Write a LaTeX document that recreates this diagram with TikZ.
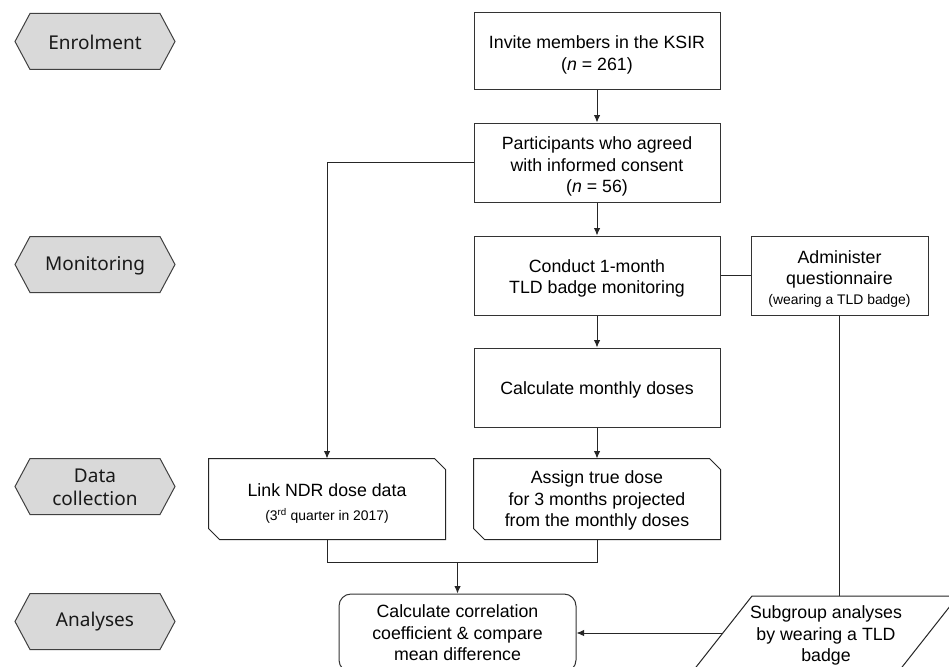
\documentclass[tikz,border=0pt]{standalone}
\usepackage{fontspec}
\setmainfont{Liberation Sans}
\newfontfamily\hexfont{Noto Sans}
\usetikzlibrary{arrows.meta}
\begin{document}
\begin{tikzpicture}[x=1pt,y=-1pt,
  line width=1pt,
  ln/.style={draw=black!85, line width=1pt},
  arr/.style={ln, -{Latex[length=7.5pt,width=6.5pt]}},
  txt/.style={align=center, inner sep=0pt, font=\fontsize{17.75}{21.5}\selectfont, text=black},
  box/.style={draw=black!80, line width=1pt, fill=white, inner sep=0pt},
  hexfill/.style={draw=black!75, line width=1pt, fill=black!15},
  hextext/.style={align=center, inner sep=0pt, font=\hexfont\fontsize{19}{23}\selectfont, text=black!90}
]
\clip (0,0) rectangle (949,666);
\fill[white] (0,0) rectangle (949,666);

% stage hexagons
\foreach \yy in {41.5,264.5,486.5,621.5}{
  \draw[hexfill] (15,\yy) -- ++(15,-28) -- ++(130,0) -- ++(15,28) -- ++(-15,28) -- ++(-130,0) -- cycle;
}
\node[hextext] (s1) at (95,42) {Enrolment};
\node[hextext] (s2) at (95,266) {Monitoring};
\node[hextext] (s3) at (95,487) {Data\\collection};
\node[hextext] (s4) at (95,622) {Analyses};

% main boxes
\node[box, minimum width=246, minimum height=77] (invite) at (597,51.5) {};
\node[txt] (inviteT) at ([yshift=-3.5pt]invite.center)
  {Invite members in the KSIR\\(\textit{n} = 261)};
\node[box, minimum width=246, minimum height=79] (part) at (597,162.5) {};
\node[txt] (partT) at ([yshift=-4pt]part.center)
  {Participants who agreed\\with informed consent\\(\textit{n} = 56)};
\node[box, minimum width=246, minimum height=79] (conduct) at (597,275.5) {};
\node[txt] (conductT) at ([yshift=-3pt]conduct.center)
  {Conduct 1-month\\TLD badge monitoring};
\node[box, minimum width=177, minimum height=79] (admin) at (839.5,275.5) {};
\node[txt] (adminT) at ([yshift=-3.5pt]admin.center)
  {Administer\\questionnaire\\[-1.5pt]{\fontsize{13.9}{17}\selectfont (wearing a TLD badge)}};
\node[box, minimum width=246, minimum height=79] (monthly) at (597,387.5) {};
\node[txt] (monthlyT) at ([yshift=-2pt]monthly.center) {Calculate monthly doses};

% chamfered boxes
\node[inner sep=0pt, minimum width=236, minimum height=80] (link) at (327,499) {};
\draw[ln] (link.north west) -- ([xshift=-11pt]link.north east) -- ([yshift=-11pt]link.north east)
  -- (link.south east) -- ([xshift=11pt]link.south west) -- ([yshift=11pt]link.south west) -- cycle;
\node[txt] (linkT) at ([yshift=-5pt]link.center)
  {Link NDR dose data\\[2.5pt]{\fontsize{13.9}{17}\selectfont (3\textsuperscript{rd} quarter in 2017)}};
\node[inner sep=0pt, minimum width=246, minimum height=80] (assign) at (597,499) {};
\draw[ln] (assign.north west) -- ([xshift=-11pt]assign.north east) -- ([yshift=-11pt]assign.north east)
  -- (assign.south east) -- ([xshift=11pt]assign.south west) -- ([yshift=11pt]assign.south west) -- cycle;
\node[txt] (assignT) at ([yshift=-1.5pt]assign.center)
  {Assign true dose\\for 3 months projected\\from the monthly doses};

% analyses
\node[box, rounded corners=12pt, minimum width=237, minimum height=78] (calc) at (457.5,633) {};
\node[txt] (calcT) at ([yshift=0pt]calc.center)
  {Calculate correlation\\coefficient \& compare\\mean difference};
\draw[ln, fill=white] (752,596) -- (958,596) -- (895,676) -- (689,676) -- cycle;
\node[txt] (sub) at (826,635.5) {Subgroup analyses\\by wearing a TLD\\badge};
\coordinate (subL) at (723,633);
\coordinate (subT) at (839.5,596);
\coordinate (m) at (457.5,562);

% connectors
\draw[arr] (invite) -- (part);
\draw[arr] (part) -- (conduct);
\draw[arr] (conduct) -- (monthly);
\draw[arr] (monthly) -- (assign);
\draw[arr] (part.west) -| (link.north);
\draw[ln] (conduct.east) -- (admin.west);
\draw[ln] (admin.south) -- (subT);
\draw[ln] (link.south) |- (m);
\draw[ln] (assign.south) |- (m);
\draw[arr] (m) -- (calc.north);
\draw[arr] (subL) -- (calc.east);
\end{tikzpicture}
\end{document}
